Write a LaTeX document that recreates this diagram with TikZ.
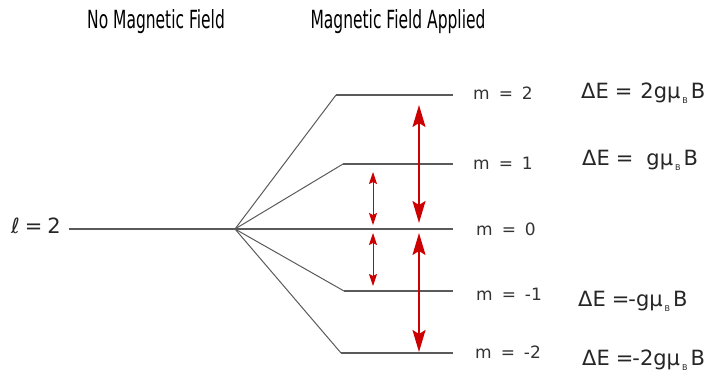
\documentclass[tikz,border=0pt]{standalone}
\usepackage{fontspec}
\setmainfont{DejaVu Sans}
\usetikzlibrary{arrows.meta}
\definecolor{lvlgray}{RGB}{90,90,90}
\definecolor{arrred}{RGB}{204,0,0}
\newcommand\subB{\hspace{2pt}\raisebox{-5pt}{\fontsize{8}{8}\selectfont B}\hspace{3pt}}
\begin{document}
\begin{tikzpicture}[x=1pt,y=-1pt,
  level/.style={draw=lvlgray,line width=1.4pt},
  fanline/.style={draw=lvlgray,line width=1pt},
  bigarrow/.style={draw=arrred,line width=1.8pt,
    {Stealth[length=22pt,width=13pt,inset=4pt]}-{Stealth[length=22pt,width=13pt,inset=4pt]}},
  smallarrow/.style={draw=arrred,line width=1pt,
    {Stealth[length=12pt,width=8pt,inset=2pt]}-{Stealth[length=12pt,width=8pt,inset=2pt]}},
  titletext/.style={anchor=base,inner sep=0pt,text=black},
  mlabel/.style={anchor=base west,inner sep=0pt,font=\fontsize{17}{17}\selectfont,text=black!80},
  elabel/.style={anchor=base west,inner sep=0pt,font=\fontsize{21}{21}\selectfont,text=black!85}]
\useasboundingbox (0,0) rectangle (707,375);

% titles
\node[titletext] (t1) at (156,28) {\scalebox{0.62}[1]{\fontsize{25}{25}\selectfont No Magnetic Field}};
\node[titletext] (t2) at (398,28) {\scalebox{0.62}[1]{\fontsize{25}{25}\selectfont Magnetic Field Applied}};

% l = 2 level
\node[anchor=base west,inner sep=0pt,font=\fontsize{21}{21}\selectfont,text=black!85] (lab) at (11,233) {ℓ\hspace{5pt}=\hspace{5pt}2};
\coordinate (L0) at (69,229);
\coordinate (F) at (235,229);
\draw[level] (L0) -- (F);

% split levels
\coordinate (s2) at (336,95);  \coordinate (e2) at (453,95);
\coordinate (s1) at (343,164); \coordinate (e1) at (453,164);
\coordinate (e0) at (453,229);
\coordinate (sm1) at (344,291); \coordinate (em1) at (453,291);
\coordinate (sm2) at (341,353); \coordinate (em2) at (453,353);

\draw[fanline] (F) -- (s2);
\draw[fanline] (F) -- (s1);
\draw[fanline] (F) -- (sm1);
\draw[fanline] (F) -- (sm2);
\draw[level] (s2) -- (e2);
\draw[level] (s1) -- (e1);
\draw[level] (F) -- (e0);
\draw[level] (sm1) -- (em1);
\draw[level] (sm2) -- (em2);

% arrows
\coordinate (b1a) at (419,105); \coordinate (b1b) at (419,223);
\coordinate (b2a) at (419,233); \coordinate (b2b) at (419,352);
\coordinate (s1a) at (373,172); \coordinate (s1b) at (373,225);
\coordinate (s2a) at (373,233); \coordinate (s2b) at (373,286);
\draw[bigarrow] (b1a) -- (b1b);
\draw[bigarrow] (b2a) -- (b2b);
\draw[smallarrow] (s1a) -- (s1b);
\draw[smallarrow] (s2a) -- (s2b);

% m labels
\node[mlabel] (m2) at (473,99) {m\hspace{9pt}=\hspace{9pt}2};
\node[mlabel] (m1) at (473,169) {m\hspace{9pt}=\hspace{9pt}1};
\node[mlabel] (m0) at (476,235) {m\hspace{9pt}=\hspace{9pt}0};
\node[mlabel] (mm1) at (476,300) {m\hspace{9pt}=\hspace{9pt}-1};
\node[mlabel] (mm2) at (475,358) {m\hspace{9pt}=\hspace{9pt}-2};

% energy labels
\node[elabel] (E2) at (581,98) {ΔE\hspace{6pt}=\hspace{8pt}2gμ\subB B};
\node[elabel] (E1) at (582,165) {ΔE\hspace{6pt}=\hspace{13pt}gμ\subB B};
\node[elabel] (Em1) at (578,306) {ΔE\hspace{6pt}=\hspace{-1pt}-gμ\subB B};
\node[elabel] (Em2) at (582,365) {ΔE\hspace{6pt}=\hspace{-1pt}-2gμ\subB B};
\end{tikzpicture}
\end{document}
